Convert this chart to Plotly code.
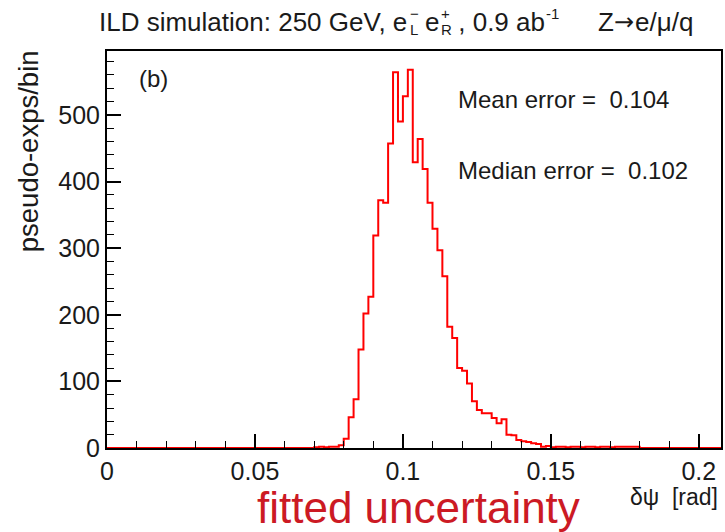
import plotly.graph_objects as go

# ---- data ----
bin_width = 1.0 / 600.0
first_bin = 42
counts = [1, 2, 1, 2, 2, 4, 14, 46, 73, 148, 202, 227, 319, 372, 368, 457, 564, 490,
          528, 568, 429, 464, 419, 368, 329, 297, 258, 182, 165, 120, 116, 97, 70, 57,
          52, 52, 45, 37, 43, 20, 19, 12, 10, 9, 7, 6, 2, 3, 1, 2, 2, 1, 2, 2, 1, 2, 2,
          1, 2, 2, 1, 2, 2, 2, 2, 2]
x_range = [0.0, 0.2075]
y_range = [0, 596]
x_tickvals = [0, 0.05, 0.1, 0.15, 0.2]
x_ticktext = ["0", "0.05", "0.1", "0.15", "0.2"]
y_tickvals = [0, 100, 200, 300, 400, 500]
y_ticktext = ["0", "100", "200", "300", "400", "500"]
mean_err = 0.104
median_err = 0.102

# ---- step outline of the histogram ----
n = len(counts)
edges = [(first_bin + i) * bin_width for i in range(n + 1)]
xs = [x_range[0]] + edges + [x_range[1]]
ys = [0] + counts + [0, 0]

W, H = 725, 532
L, R, T, B = 107, 723, 51, 448


def fx(px):
    return (px - L) / (R - L)


def fy(py):
    return (B - py) / (B - T)


FONT = "Liberation Sans, Arial, Helvetica, sans-serif"
SYM = "DejaVu Sans, sans-serif"
TXT = "#1a1a1a"

# approximate Arial/Liberation Sans advance widths (em/1000) for layout of the title pieces
AW = {"I": 278, "L": 556, "D": 722, " ": 278, "s": 500, "i": 222, "m": 833, "u": 556,
      "l": 222, "a": 556, "t": 278, "o": 556, "n": 556, ":": 278, "G": 778, "e": 556,
      "V": 667, ",": 278, ".": 278, "b": 556, "-": 333, "+": 584, "R": 722, "−": 584,
      "Z": 611}


def tw(s, size):
    return sum(AW.get(c, 556) for c in s) * size / 1000.0


fig = go.Figure()
fig.add_trace(go.Scatter(x=xs, y=ys, mode="lines", line=dict(color="#ff0000", width=2, shape="hv"),
                         hoverinfo="skip", showlegend=False))

axis_common = dict(showline=True, linecolor="black", linewidth=2, mirror=True,
                   ticks="inside", ticklen=14, tickwidth=1.5, tickcolor="black",
                   showgrid=False, zeroline=False,
                   tickfont=dict(family=FONT, size=25, color=TXT))

fig.update_xaxes(range=x_range, tickvals=x_tickvals, ticktext=x_ticktext,
                 minor=dict(ticks="inside", ticklen=7, tickwidth=1.2, tickcolor="black",
                            dtick=0.01, tick0=0, showgrid=False),
                 **axis_common)
fig.update_yaxes(range=y_range, tickvals=y_tickvals, ticktext=y_ticktext,
                 minor=dict(ticks="inside", ticklen=7, tickwidth=1.2, tickcolor="black",
                            dtick=20, tick0=0, showgrid=False),
                 **axis_common)

ann = []


def text(s, px, py, size, xanchor="left", color=TXT, angle=0, family=FONT):
    ann.append(dict(text=s, x=fx(px), y=fy(py), xref="paper", yref="paper",
                    xanchor=xanchor, yanchor="middle", showarrow=False, textangle=angle,
                    font=dict(family=family, size=size, color=color)))


# title with stacked super/subscripts
ts, ss = 26, 15
ty = 22
cx = 97
p1 = "ILD simulation: 250 GeV, e"
text(p1, cx, ty, ts)
cx += tw(p1, ts) + 1
text("−", cx, ty - 8, ss)
text("L", cx, ty + 8, ss)
cx += tw("L", ss) + tw(" ", ts)
text("e", cx, ty, ts)
cx += tw("e", ts) + 1
text("+", cx, ty - 8, ss)
text("R", cx, ty + 8, ss)
cx += tw("R", ss)
p3 = " , 0.9 ab"
text(p3.replace(" ", "\u00a0"), cx, ty, ts)
cx += tw(p3, ts) + 1
text("-1", cx, ty - 8, ss)

zx = 598
text("Z", zx, ty, ts)
zx += tw("Z", ts)
text("→", zx, ty, ts - 2, family=SYM)
zx += 0.838 * (ts - 2) + 1
text("e/μ/q", zx, ty, ts)

text("pseudo-exps/bin", 28, 151, 27.5, xanchor="center", angle=-90)
text("(b)", 137, 78, 24)
text(f"Mean error =\u00a0\u00a0{mean_err:.3f}", 457, 99, 24)
text(f"Median error =\u00a0\u00a0{median_err:.3f}", 457, 170, 24)
text("δψ\u00a0\u00a0[rad]", 722, 497, 23, xanchor="right")
text("fitted uncertainty", 420, 507, 44, xanchor="center", color="#cc1a24")

fig.update_layout(width=W, height=H, margin=dict(l=L, r=W - R, t=T, b=H - B),
                  paper_bgcolor="white", plot_bgcolor="white", annotations=ann,
                  showlegend=False)

fig.write_html("out.html")
